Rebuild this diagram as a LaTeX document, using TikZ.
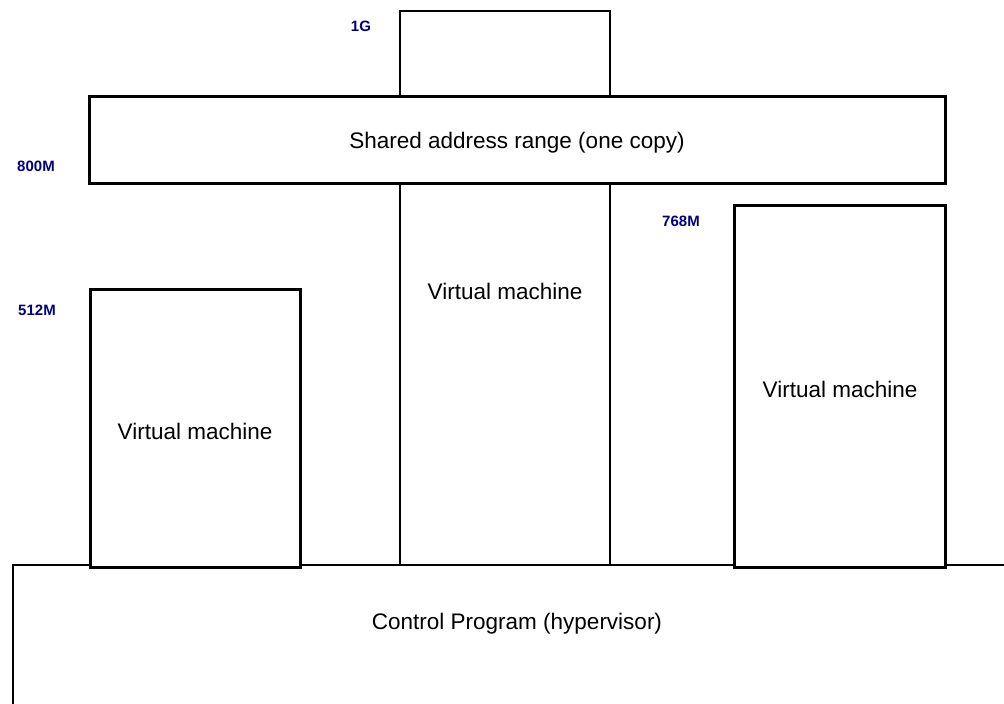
\documentclass[tikz,border=0pt]{standalone}
\usepackage{fontspec}
\setmainfont{Liberation Sans}
\definecolor{lbl}{HTML}{00007F}
\begin{document}
\begin{tikzpicture}[x=1pt,y=-1pt,
  thick box/.style={draw=black,line width=3pt},
  thin box/.style={draw=black,line width=2.7pt},
  main/.style={font=\fontsize{22.5}{26}\selectfont},
  lab/.style={font=\bfseries\fontsize{15}{17}\selectfont,text=lbl}]
\useasboundingbox[fill=white] (0,0) rectangle (1004,704);
% control program
\draw[thin box] (13,704) -- (13,565) -- (1004,565);
\node[main] (cp) at (517,624) {Control Program (hypervisor)};
% middle VM
\draw[thin box] (400,96) -- (400,11) -- (610,11) -- (610,96);
\draw[thin box] (400,183) -- (400,565);
\draw[thin box] (610,183) -- (610,565);
\node[main] (vm2) at (505,291) {Virtual machine};
% shared
\draw[thick box,fill=white] (89,96) rectangle (945,183);
\node[main] (sh) at (517,143) {Shared address range (one copy)};
% VM1
\draw[thick box,fill=white] (90,289) rectangle (300,567);
\node[main] (vm1) at (195,431) {Virtual machine};
% VM3
\draw[thick box,fill=white] (734,205) rectangle (945,567);
\node[main] (vm3) at (840,389) {Virtual machine};
% labels
\node[lab] (l1) at (361,26) {1G};
\node[lab] (l2) at (36,166) {800M};
\node[lab] (l3) at (37,310) {512M};
\node[lab] (l4) at (681,221) {768M};
\end{tikzpicture}
\end{document}
